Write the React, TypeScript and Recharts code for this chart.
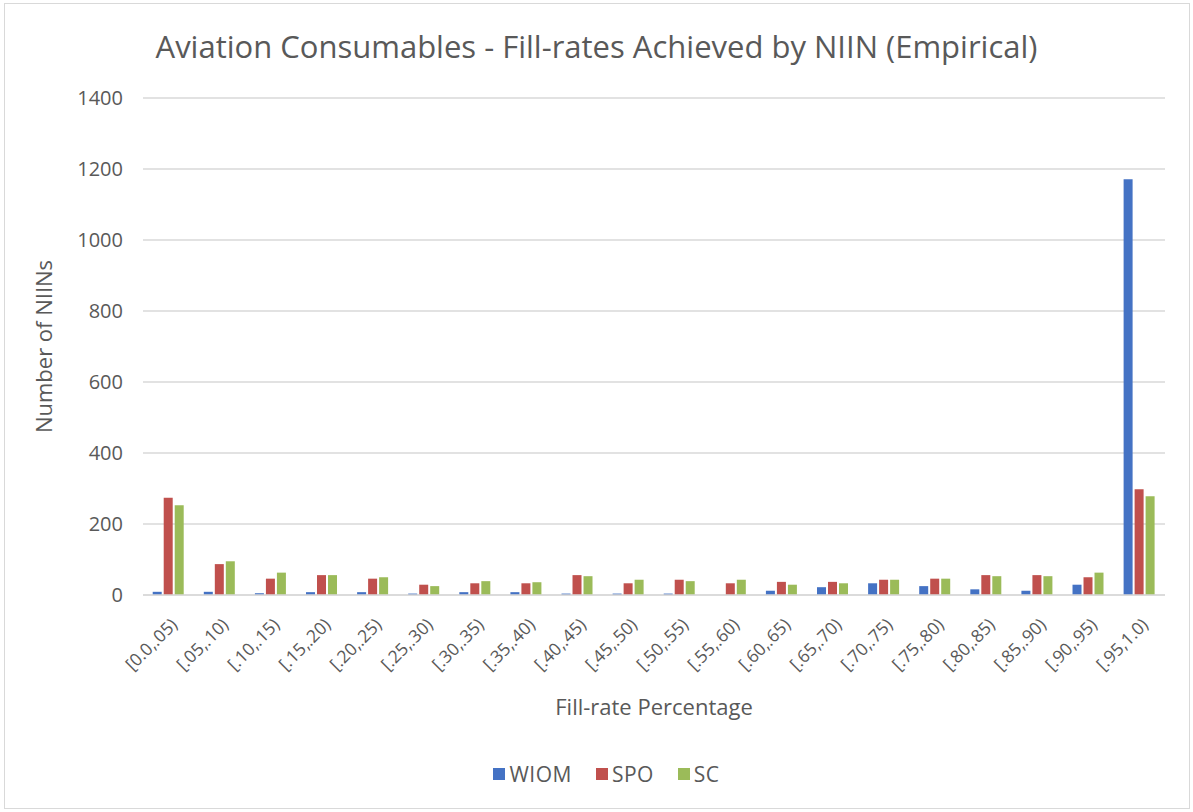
import { Bar, BarChart, CartesianGrid, XAxis, YAxis } from "recharts";

const categories = [
  "[0.0,.05)", "[.05,.10)", "[.10,.15)", "[.15,.20)", "[.20,.25)",
  "[.25,.30)", "[.30,.35)", "[.35,.40)", "[.40,.45)", "[.45,.50)",
  "[.50,.55)", "[.55,.60)", "[.60,.65)", "[.65,.70)", "[.70,.75)",
  "[.75,.80)", "[.80,.85)", "[.85,.90)", "[.90,.95)", "[.95,1.0)"
];
const wiom = [9, 9, 5, 8, 8, 4, 8, 8, 4, 4, 4, 0, 12, 22, 33, 25, 16, 12, 29, 1171];
const spo = [274, 87, 46, 56, 46, 29, 33, 33, 56, 33, 43, 33, 37, 37, 43, 46, 56, 56, 50, 298];
const sc = [253, 95, 63, 56, 50, 25, 39, 36, 53, 43, 39, 43, 29, 33, 43, 46, 53, 53, 63, 278];
const yTicks = [0, 200, 400, 600, 800, 1000, 1200, 1400];

const series = [
  { key: "WIOM", color: "#4472C4" },
  { key: "SPO", color: "#C0504D" },
  { key: "SC", color: "#9BBB59" }
];

const data = categories.map((c, i) => ({
  range: c,
  WIOM: wiom[i],
  SPO: spo[i],
  SC: sc[i]
}));

const font = "'Open Sans', sans-serif";
const grey = "#595959";

function AngledTick(props: any) {
  const { x, y, payload } = props;
  return (
    <g transform={`translate(${x + 7},${y + 20})`}>
      <text
        transform="rotate(-45)"
        textAnchor="end"
        fill={grey}
        fontSize={17.5}
        fontFamily={font}
        dy={4}
      >
        {payload.value}
      </text>
    </g>
  );
}

export default function App() {
  return (
    <div style={{ position: "absolute", left: 0, top: 0, width: 1193, height: 812, background: "#fff", fontFamily: font }}>
      <div
        style={{
          position: "absolute",
          left: 4,
          top: 3,
          width: 1184,
          height: 804,
          border: "1px solid #d9d9d9"
        }}
      />
      <div
        style={{
          position: "absolute",
          left: 0,
          width: 1193,
          top: 25,
          textAlign: "center",
          fontSize: 31,
          color: grey
        }}
      >
        Aviation Consumables - Fill-rates Achieved by NIIN (Empirical)
      </div>
      <div style={{ position: "absolute", left: 0, top: 0 }}>
        <BarChart
          width={1193}
          height={812}
          data={data}
          margin={{ top: 98, right: 28, left: 63, bottom: 87 }}
          barCategoryGap="19%"
          barGap={2}
        >
          <CartesianGrid vertical={false} stroke="#d9d9d9" strokeWidth={1.5} />
          <XAxis
            dataKey="range"
            height={130}
            interval={0}
            tick={<AngledTick />}
            tickLine={false}
            axisLine={{ stroke: "#d9d9d9", strokeWidth: 1.5 }}
            label={{
              value: "Fill-rate Percentage",
              position: "insideBottom",
              offset: 10,
              fill: grey,
              fontSize: 22,
              fontFamily: font
            }}
          />
          <YAxis
            width={80}
            domain={[0, 1400]}
            ticks={yTicks}
            tickLine={false}
            axisLine={false}
            tickSize={0}
            tickMargin={20}
            tick={{ fill: grey, fontSize: 20, fontFamily: font }}
            label={{
              value: "Number of NIINs",
              angle: -90,
              position: "insideLeft",
              offset: -19,
              style: { textAnchor: "middle" },
              fill: grey,
              fontSize: 22,
              fontFamily: font
            }}
          />
          {series.map((s) => (
            <Bar key={s.key} dataKey={s.key} fill={s.color} isAnimationActive={false} />
          ))}
        </BarChart>
      </div>
      <div
        style={{
          position: "absolute",
          top: 760,
          left: 0,
          width: 1193,
          paddingLeft: 20,
          boxSizing: "border-box",
          display: "flex",
          justifyContent: "center",
          gap: 24,
          fontSize: 21,
          letterSpacing: 0.5,
          color: grey
        }}
      >
        {series.map((s) => (
          <div key={s.key} style={{ display: "flex", alignItems: "center", gap: 4 }}>
            <span style={{ width: 12, height: 12, background: s.color, display: "inline-block" }} />
            <span>{s.key}</span>
          </div>
        ))}
      </div>
    </div>
  );
}
